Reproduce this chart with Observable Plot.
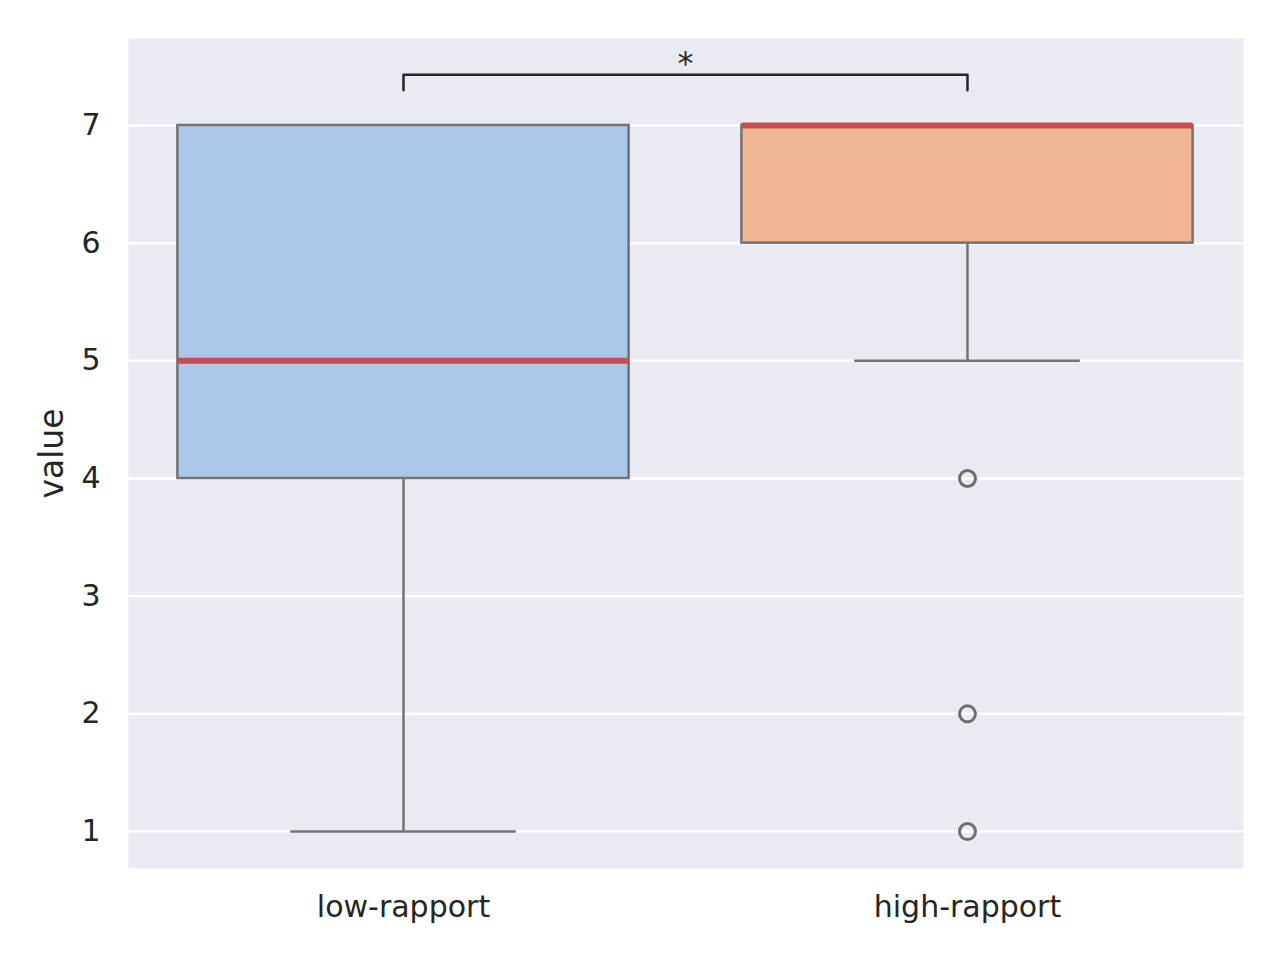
<!DOCTYPE html>
<html>
<head>
<meta charset="utf-8">
<script src="https://cdn.jsdelivr.net/npm/d3@7"></script>
<script src="https://cdn.jsdelivr.net/npm/@observablehq/plot@0.6"></script>
<style>
  html, body { margin: 0; padding: 0; background: #ffffff; }
  #chart { width: 1280px; height: 960px; }
</style>
</head>
<body>
<div id="chart"></div>
<script>
// ---- data ----
const categories = ["low-rapport", "high-rapport"];
const q1 = [4, 6];
const median = [5, 7];
const q3 = [7, 7];
const whiskerLow = [1, 5];
const whiskerHigh = [7, 7];
const outliers = [ [], [4, 2, 1] ];
const fills = ["#abc8eb", "#f0b792"];
const yTicks = [1, 2, 3, 4, 5, 6, 7];
const yLabel = "value";
const bracketY = 7.43;
const bracketTickY = 7.30;
const starLabel = "*";

const boxWidth = 0.8;
const capWidth = 0.4;

const boxes = categories.map((c, i) => ({
  i, c, q1: q1[i], med: median[i], q3: q3[i], lo: whiskerLow[i], hi: whiskerHigh[i], fill: fills[i]
}));
const outlierPts = outliers.flatMap((arr, i) => arr.map(v => ({ i, v })));
const bracket = [
  { x: 0, y: bracketTickY }, { x: 0, y: bracketY },
  { x: 1, y: bracketY }, { x: 1, y: bracketTickY }
];

const edge = "#737373";
const font = "DejaVu Sans, sans-serif";

const chart = Plot.plot({
  width: 1280,
  height: 960,
  marginTop: 38,
  marginBottom: 92,
  marginLeft: 128,
  marginRight: 37,
  style: { fontFamily: font, fontSize: "30px", color: "#262626", background: "#ffffff" },
  x: { type: "linear", domain: [-0.4876, 1.4894], axis: null },
  y: { domain: [0.686, 7.739], axis: null },
  marks: [
    Plot.frame({ fill: "#eaeaf2", stroke: null }),
    Plot.gridY(yTicks, { stroke: "#ffffff", strokeOpacity: 1, strokeWidth: 2.5 }),
    Plot.axisY(yTicks, {
      tickSize: 0, tickPadding: 28, fontSize: 30, label: null,
      tickFormat: d => String(d)
    }),
    Plot.text([yLabel], {
      frameAnchor: "left", rotate: -90, dx: -76, fontSize: 33,
      text: d => d, fill: "#262626", textAnchor: "middle", lineAnchor: "middle"
    }),
    Plot.axisX([0, 1], {
      tickSize: 0, tickPadding: 27, fontSize: 30, label: null,
      tickFormat: i => categories[i]
    }),
    // whiskers
    Plot.ruleX(boxes, { x: "i", y1: "lo", y2: "q1", stroke: edge, strokeWidth: 2.5 }),
    Plot.ruleX(boxes, { x: "i", y1: "q3", y2: "hi", stroke: edge, strokeWidth: 2.5 }),
    // caps
    Plot.ruleY(boxes, { y: "lo", x1: d => d.i - capWidth / 2, x2: d => d.i + capWidth / 2, stroke: edge, strokeWidth: 2.5 }),
    Plot.ruleY(boxes, { y: "hi", x1: d => d.i - capWidth / 2, x2: d => d.i + capWidth / 2, stroke: edge, strokeWidth: 2.5 }),
    // boxes
    Plot.rect(boxes, {
      x1: d => d.i - boxWidth / 2, x2: d => d.i + boxWidth / 2,
      y1: "q1", y2: "q3", fill: "fill", stroke: edge, strokeWidth: 2.5
    }),
    // medians
    Plot.ruleY(boxes, { y: "med", x1: d => d.i - boxWidth / 2, x2: d => d.i + boxWidth / 2, stroke: "#c44e52", strokeWidth: 6 }),
    // outliers
    Plot.dot(outlierPts, { x: "i", y: "v", r: 8, stroke: "#6e6e6e", strokeWidth: 3, fill: "none" }),
    // significance bracket
    Plot.line(bracket, { x: "x", y: "y", stroke: "#262626", strokeWidth: 2.5, curve: "linear" }),
    Plot.text([starLabel], {
      x: () => 0.5, y: () => bracketY, text: d => d, fontSize: 32,
      fill: "#262626", lineAnchor: "bottom", dy: -1
    })
  ]
});

document.getElementById("chart").appendChild(chart);
</script>
</body>
</html>
